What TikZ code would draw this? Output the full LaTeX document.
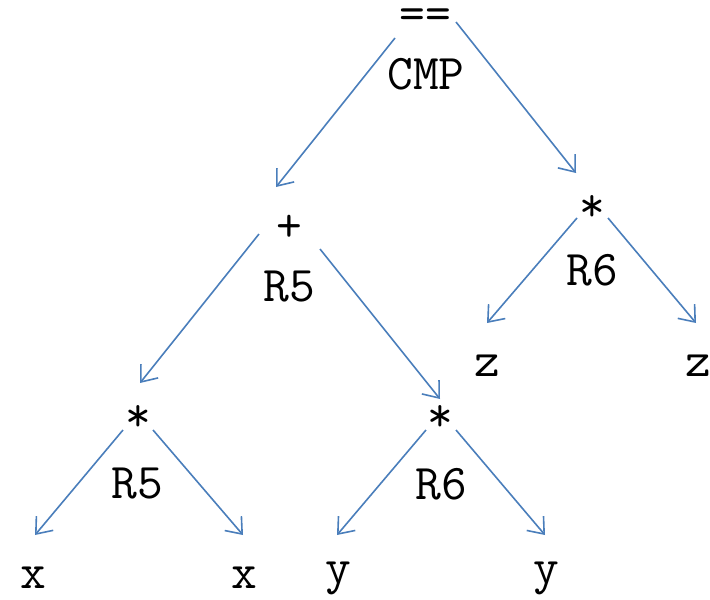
\documentclass[tikz,border=0pt]{standalone}
\usetikzlibrary{arrows.meta}
\definecolor{edgeblue}{RGB}{74,126,187}
\tikzset{
  lbl/.style={font=\fontsize{50}{54}\selectfont\ttfamily, inner sep=0pt, anchor=center},
  edge/.style={draw=edgeblue, line width=1.6pt, -{Straight Barb[length=14pt,width=22pt,line width=1.6pt]}}
}
\begin{document}
\begin{tikzpicture}[x=1pt,y=-1pt]
\useasboundingbox (0,0) rectangle (710,600);
% nodes
\node[lbl] (eq) at (425,19) {==};
\node[lbl] (cmp) at (426,74) {CMP};
\node[lbl] (plus) at (289,228) {+};
\node[lbl] (r5a) at (289,287) {R5};
\node[lbl] (mulR) at (592,208) {*};
\node[lbl] (r6a) at (592,270) {R6};
\node[lbl] (z1) at (487,366) {z};
\node[lbl] (z2) at (698,366) {z};
\node[lbl] (mulL) at (138,418) {*};
\node[lbl] (r5b) at (137,484) {R5};
\node[lbl] (mulM) at (440,418) {*};
\node[lbl] (r6b) at (441,484) {R6};
\node[lbl] (x1) at (33,578) {x};
\node[lbl] (x2) at (244,578) {x};
\node[lbl] (y1) at (338,578) {y};
\node[lbl] (y2) at (546,578) {y};
% connector end points
\coordinate (eqL) at (395,38);   \coordinate (plusT) at (276,187);
\coordinate (eqR) at (456,22);   \coordinate (mulRT) at (576,173);
\coordinate (plL) at (259,234);  \coordinate (mulLT) at (140,383);
\coordinate (plR) at (320,249);  \coordinate (mulMT) at (440,399);
\coordinate (mRL) at (577,218);  \coordinate (z1T) at (487,323);
\coordinate (mRR) at (608,218);  \coordinate (z2T) at (696,323);
\coordinate (mLL) at (123,430);  \coordinate (x1T) at (35,535);
\coordinate (mLR) at (153,430);  \coordinate (x2T) at (243,535);
\coordinate (mML) at (426,430);  \coordinate (y1T) at (337,535);
\coordinate (mMR) at (456,430);  \coordinate (y2T) at (545,535);
% connectors
\draw[edge] (eqL) -- (plusT);
\draw[edge] (eqR) -- (mulRT);
\draw[edge] (plL) -- (mulLT);
\draw[edge] (plR) -- (mulMT);
\draw[edge] (mRL) -- (z1T);
\draw[edge] (mRR) -- (z2T);
\draw[edge] (mLL) -- (x1T);
\draw[edge] (mLR) -- (x2T);
\draw[edge] (mML) -- (y1T);
\draw[edge] (mMR) -- (y2T);
\end{tikzpicture}
\end{document}
